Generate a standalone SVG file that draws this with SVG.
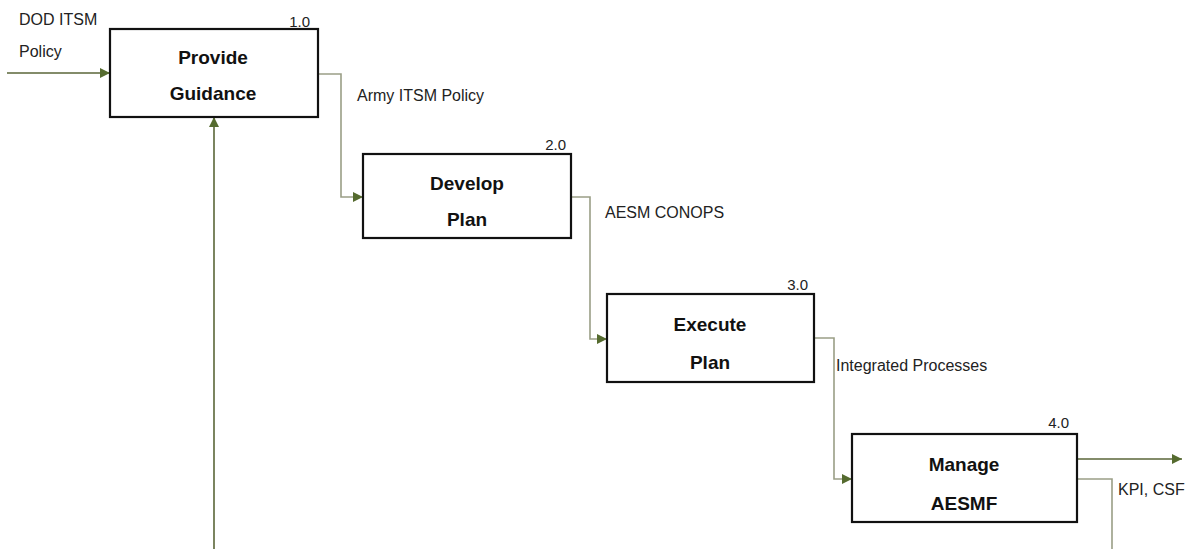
<svg xmlns="http://www.w3.org/2000/svg" width="1196" height="549" viewBox="0 0 1196 549">
<defs>
<marker id="ah" viewBox="0 0 10 10" refX="10" refY="5" markerWidth="10" markerHeight="10" markerUnits="userSpaceOnUse" orient="auto">
<path d="M0,0 L10,5 L0,10 Z" fill="#556b2f"/>
</marker>
</defs>
<style>
.box{fill:#fff;stroke:#111;stroke-width:2.2}
.title{font-family:"Liberation Sans",Arial,sans-serif;font-size:19px;font-weight:bold;fill:#111;text-anchor:middle}
.num{font-family:"Liberation Sans",Arial,sans-serif;font-size:15px;fill:#222;text-anchor:end}
.lbl{font-family:"Liberation Sans",Arial,sans-serif;font-size:16px;fill:#222}
.dark{fill:none;stroke:#5a6638;stroke-width:1.6}
.light{fill:none;stroke:#9a9e86;stroke-width:1.6}
</style>
<rect width="1196" height="549" fill="#fff"/>
<g id="connectors">
<path class="dark" d="M7,73 H110" marker-end="url(#ah)"/>
<path class="light" d="M318,74 H341 V197 H363" marker-end="url(#ah)"/>
<path class="light" d="M571,197 H590 V339 H607" marker-end="url(#ah)"/>
<path class="light" d="M814,338 H834 V479 H852" marker-end="url(#ah)"/>
<path class="dark" d="M1077,459 H1182" marker-end="url(#ah)"/>
<path class="light" d="M1077,479 H1112 V552"/>
<path class="dark" d="M214,552 V117" marker-end="url(#ah)"/>
<text class="lbl" x="19" y="25">DOD ITSM</text>
<text class="lbl" x="19" y="57">Policy</text>
<text class="lbl" x="357" y="101">Army ITSM Policy</text>
<text class="lbl" x="605" y="218">AESM CONOPS</text>
<text class="lbl" x="836" y="371">Integrated Processes</text>
<text class="lbl" x="1118" y="495">KPI, CSF</text>
</g>
<g id="node1">
<rect class="box" x="110" y="29" width="208" height="88"/>
<text class="num" x="310" y="27">1.0</text>
<text class="title" x="213" y="64">Provide</text>
<text class="title" x="213" y="100">Guidance</text>
</g>
<g id="node2">
<rect class="box" x="363" y="154" width="208" height="84"/>
<text class="num" x="566" y="150">2.0</text>
<text class="title" x="467" y="190">Develop</text>
<text class="title" x="467" y="226">Plan</text>
</g>
<g id="node3">
<rect class="box" x="607" y="294" width="207" height="88"/>
<text class="num" x="808" y="290">3.0</text>
<text class="title" x="710" y="331">Execute</text>
<text class="title" x="710" y="369">Plan</text>
</g>
<g id="node4">
<rect class="box" x="852" y="434" width="225" height="88"/>
<text class="num" x="1069" y="428">4.0</text>
<text class="title" x="964" y="471">Manage</text>
<text class="title" x="964" y="510">AESMF</text>
</g>
</svg>
